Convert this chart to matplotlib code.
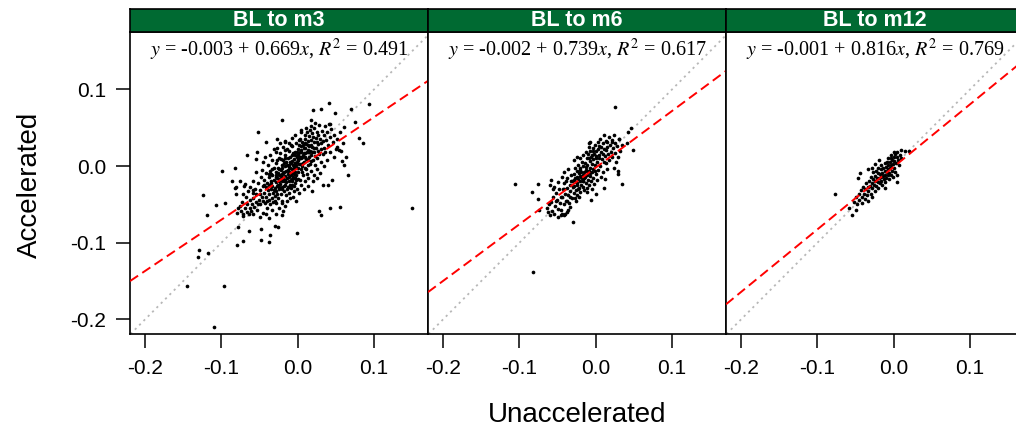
import numpy as np
import matplotlib
matplotlib.use("Agg")
import matplotlib.pyplot as plt

plt.rcParams['axes.unicode_minus'] = False
plt.rcParams['mathtext.fontset'] = 'stix'

# ---------------- data ----------------
panel_titles = ["BL to m3", "BL to m6", "BL to m12"]
intercepts = [-0.003, -0.002, -0.001]
slopes = [0.669, 0.739, 0.816]
r_squared = [0.491, 0.617, 0.769]
tick_values = [-0.2, -0.1, 0.0, 0.1]

# (Unaccelerated, Accelerated) pairs, panel "BL to m3"
points_m3 = [
    (0.041, 0.083), (0.093, 0.081), (0.020, 0.073), (0.030, 0.074), (0.070, 0.074),
    (0.049, 0.069), (-0.020, 0.060), (0.018, 0.060), (0.075, 0.057), (0.042, 0.055),
    (0.061, 0.051), (-0.052, 0.044), (0.080, 0.037), (0.086, 0.030), (-0.041, 0.032),
    (-0.027, 0.035), (-0.016, 0.033), (-0.066, 0.014), (-0.053, 0.019), (-0.099, -0.006),
    (-0.082, -0.002), (-0.124, -0.038), (-0.107, -0.051), (-0.119, -0.064), (-0.095, -0.048),
    (-0.086, -0.019), (-0.076, -0.019), (0.066, -0.012), (0.058, 0.007), (0.061, 0.002),
    (0.045, -0.018), (0.033, -0.025), (0.040, -0.025), (0.019, -0.032), (0.028, -0.058),
    (0.030, -0.064), (0.043, -0.055), (0.055, -0.053), (0.150, -0.055), (-0.078, -0.080),
    (-0.064, -0.084), (-0.048, -0.082), (-0.048, -0.096), (-0.037, -0.099), (-0.036, -0.090),
    (-0.030, -0.078), (-0.026, -0.079), (-0.001, -0.087), (-0.071, -0.098), (-0.080, -0.103),
    (-0.129, -0.110), (-0.118, -0.113), (-0.131, -0.118), (-0.145, -0.157), (-0.096, -0.157),
    (-0.109, -0.210), (-0.028, -0.063), (-0.020, -0.064), (-0.019, -0.059),
    (-0.081, -0.027), (-0.081, -0.037), (-0.055, 0.009), (-0.045, 0.006), (-0.029, 0.019),
    (-0.017, 0.021), (0.004, 0.045), (0.016, 0.047), (0.002, 0.034),
    (-0.069, -0.023), (-0.062, -0.027), (-0.058, -0.031), (-0.082, -0.029), (-0.071, -0.036),
    (-0.078, -0.055), (-0.080, -0.061), (-0.072, -0.065),
    (0.051, 0.025), (0.054, 0.021), (0.047, 0.012),
    (-0.074, -0.058), (-0.071, -0.062), (-0.069, -0.055), (-0.067, -0.060), (-0.066, -0.049),
    (-0.064, -0.063), (-0.063, -0.054), (-0.062, -0.044), (-0.061, -0.058), (-0.060, -0.050),
    (-0.073, -0.047), (-0.068, -0.040), (-0.065, -0.033), (-0.070, -0.026), (-0.076, -0.052),
    (-0.059, -0.062), (-0.058, -0.041), (-0.057, -0.053), (-0.056, -0.030), (-0.055, -0.047),
    (-0.054, -0.036), (-0.053, -0.057), (-0.052, -0.022), (-0.051, -0.044), (-0.050, -0.031),
    (-0.049, -0.050), (-0.048, -0.014), (-0.047, -0.040), (-0.046, -0.026), (-0.045, -0.061),
    (-0.058, -0.020), (-0.055, -0.008), (-0.050, -0.067), (-0.047, -0.005), (-0.046, -0.046),
    (-0.044, -0.035), (-0.044, -0.018), (-0.043, -0.048), (-0.042, -0.027), (-0.042, -0.009),
    (-0.041, -0.040), (-0.040, -0.022), (-0.040, -0.055), (-0.039, -0.031), (-0.039, 0.002),
    (-0.038, -0.014), (-0.038, -0.044), (-0.037, -0.025), (-0.037, -0.036), (-0.036, -0.006),
    (-0.036, -0.050), (-0.035, -0.019), (-0.035, -0.030), (-0.034, -0.041), (-0.034, 0.008),
    (-0.033, -0.012), (-0.033, -0.026), (-0.032, -0.035), (-0.032, -0.047), (-0.031, -0.018),
    (-0.031, -0.002), (-0.030, -0.029), (-0.030, -0.039), (-0.043, 0.012), (-0.041, -0.062),
    (-0.036, 0.015), (-0.033, -0.057), (-0.031, 0.022), (-0.038, -0.068), (-0.035, -0.010),
    (-0.029, -0.021), (-0.029, -0.008), (-0.028, -0.033), (-0.028, 0.004), (-0.027, -0.015),
    (-0.027, -0.026), (-0.026, -0.041), (-0.026, -0.002), (-0.025, -0.019), (-0.025, 0.010),
    (-0.024, -0.030), (-0.024, -0.011), (-0.023, -0.023), (-0.023, 0.017), (-0.022, -0.036),
    (-0.022, -0.005), (-0.021, -0.016), (-0.021, 0.002), (-0.020, -0.027), (-0.020, -0.045),
    (-0.019, -0.009), (-0.019, 0.008), (-0.018, -0.020), (-0.018, -0.032), (-0.017, 0.000),
    (-0.017, -0.013), (-0.016, 0.014), (-0.016, -0.025), (-0.015, -0.006), (-0.015, -0.038),
    (-0.029, -0.048), (-0.027, 0.024), (-0.025, -0.054), (-0.023, 0.030), (-0.021, -0.048),
    (-0.019, 0.025), (-0.017, -0.052), (-0.016, 0.032), (-0.028, -0.012), (-0.026, -0.024),
    (-0.024, -0.004), (-0.022, -0.013), (-0.020, -0.002), (-0.018, -0.007), (-0.016, -0.018),
    (-0.022, 0.009), (-0.020, -0.019), (-0.018, 0.004), (-0.027, -0.037), (-0.015, 0.006),
    (-0.014, -0.016), (-0.014, 0.002), (-0.013, -0.027), (-0.013, 0.011), (-0.012, -0.008),
    (-0.012, -0.035), (-0.011, 0.020), (-0.011, -0.019), (-0.010, -0.002), (-0.010, 0.006),
    (-0.009, -0.012), (-0.009, -0.028), (-0.008, 0.014), (-0.008, -0.004), (-0.007, -0.020),
    (-0.007, 0.026), (-0.006, 0.001), (-0.006, -0.014), (-0.005, 0.009), (-0.005, -0.032),
    (-0.004, -0.007), (-0.004, 0.018), (-0.003, -0.022), (-0.003, 0.004), (-0.002, -0.011),
    (-0.002, 0.030), (-0.001, 0.012), (-0.001, -0.003), (0.000, -0.017), (0.000, 0.022),
    (-0.014, -0.045), (-0.012, 0.030), (-0.010, -0.042), (-0.008, 0.037), (-0.006, -0.040),
    (-0.004, 0.040), (-0.002, -0.046), (-0.013, -0.005), (-0.011, 0.001), (-0.009, 0.004),
    (-0.007, -0.009), (-0.005, -0.001), (-0.003, 0.014), (-0.001, 0.005), (-0.012, -0.014),
    (-0.010, -0.024), (-0.008, -0.017), (-0.006, 0.017), (-0.004, -0.015), (-0.002, 0.001),
    (0.000, 0.008), (-0.014, 0.022), (-0.009, 0.028), (-0.005, -0.026), (-0.001, -0.030),
    (0.001, 0.016), (0.001, -0.008), (0.002, 0.027), (0.002, 0.003), (0.003, -0.018),
    (0.003, 0.036), (0.004, 0.010), (0.004, -0.004), (0.005, 0.021), (0.005, -0.025),
    (0.006, 0.000), (0.006, 0.031), (0.007, 0.014), (0.007, -0.012), (0.008, 0.024),
    (0.008, 0.005), (0.009, -0.019), (0.009, 0.040), (0.010, 0.017), (0.010, -0.003),
    (0.011, 0.029), (0.011, 0.009), (0.012, -0.010), (0.012, 0.044), (0.013, 0.021),
    (0.013, 0.002), (0.014, 0.033), (0.014, -0.015), (0.015, 0.012), (0.015, 0.026),
    (0.002, -0.035), (0.005, 0.047), (0.008, -0.030), (0.011, 0.050), (0.013, -0.026),
    (0.003, 0.019), (0.006, 0.012), (0.009, 0.030), (0.012, 0.018), (0.001, 0.008),
    (0.004, 0.026), (0.007, 0.004), (0.010, 0.036), (0.014, 0.008), (0.015, 0.039),
    (0.016, 0.020), (0.016, 0.003), (0.017, 0.034), (0.018, 0.014), (0.018, -0.006),
    (0.019, 0.043), (0.019, 0.025), (0.020, 0.008), (0.021, 0.031), (0.021, -0.012),
    (0.022, 0.018), (0.022, 0.050), (0.023, 0.002), (0.024, 0.037), (0.024, 0.024),
    (0.025, 0.011), (0.026, 0.045), (0.026, -0.004), (0.027, 0.029), (0.028, 0.016),
    (0.028, 0.054), (0.029, 0.036), (0.030, 0.006), (0.030, 0.023), (0.017, 0.052),
    (0.020, -0.020), (0.023, 0.056), (0.025, -0.016), (0.027, 0.040), (0.029, -0.009),
    (0.031, 0.030), (0.032, 0.046), (0.033, 0.016), (0.034, 0.040), (0.035, 0.024),
    (0.036, 0.052), (0.037, 0.034), (0.038, 0.008), (0.039, 0.044), (0.040, 0.028),
    (0.042, 0.038), (0.043, 0.018), (0.044, 0.048), (0.046, 0.031), (0.048, 0.041),
    (0.050, 0.022), (0.034, 0.000), (0.041, 0.055), (0.052, 0.035), (0.055, 0.044),
    (0.057, 0.020), (0.060, 0.030), (0.063, 0.012),
    (-0.035, -0.022), (-0.033, -0.004), (-0.031, -0.031), (-0.029, -0.014), (-0.027, 0.008),
    (-0.025, -0.027), (-0.023, -0.011), (-0.021, -0.030), (-0.019, -0.016), (-0.017, 0.010),
    (-0.015, -0.021), (-0.013, -0.010), (-0.011, -0.027), (-0.009, -0.018), (-0.007, 0.007),
    (-0.005, -0.010), (-0.003, -0.016), (-0.001, 0.018), (0.001, -0.002), (0.003, 0.012),
    (0.005, 0.003), (0.007, 0.027), (0.009, 0.012), (0.011, -0.004), (0.013, 0.027),
    (0.015, 0.019), (0.017, 0.007), (0.019, 0.018), (0.021, 0.024), (0.023, 0.013),
    (0.025, 0.031), (0.027, 0.020), (-0.030, -0.045), (-0.026, -0.009), (-0.024, -0.017),
    (-0.020, -0.010), (-0.018, -0.026), (-0.014, -0.030), (-0.012, -0.001), (-0.010, 0.012),
    (-0.008, -0.024), (-0.006, -0.005), (-0.004, 0.004), (-0.002, -0.018), (0.000, 0.015),
    (0.002, 0.010), (0.004, 0.018), (0.006, -0.007), (0.008, 0.017), (0.010, 0.024),
    (-0.044, -0.025), (-0.040, -0.046), (-0.037, -0.010), (-0.049, -0.037), (-0.052, -0.049),
    (-0.058, -0.035), (0.018, 0.028), (0.020, 0.038), (0.033, 0.033), (0.036, 0.018),
]

# panel "BL to m6"
points_m6 = [
    (0.026, 0.077), (-0.106, -0.023), (-0.082, -0.138), (-0.030, -0.073), (0.049, 0.021),
    (0.035, -0.023), (0.046, 0.050), (0.042, 0.044), (0.031, 0.035), (0.022, 0.034),
    (0.029, -0.006), (0.029, -0.010), (-0.076, -0.023), (-0.084, -0.034), (-0.076, -0.043),
    (-0.074, -0.057), (-0.006, -0.044), (0.001, -0.037), (0.011, -0.029), (-0.009, 0.030),
    (-0.007, 0.031), (0.041, 0.030),
    (-0.064, -0.055), (-0.062, -0.060), (-0.061, -0.050), (-0.060, -0.064), (-0.058, -0.047),
    (-0.057, -0.058), (-0.056, -0.040), (-0.055, -0.062), (-0.053, -0.052), (-0.052, -0.035),
    (-0.051, -0.044), (-0.050, -0.066), (-0.049, -0.056), (-0.048, -0.030), (-0.047, -0.048),
    (-0.046, -0.064), (-0.060, -0.025), (-0.058, -0.018), (-0.054, -0.027), (-0.050, -0.021),
    (-0.056, -0.030),
    (-0.044, -0.062), (-0.042, -0.064), (-0.040, -0.063), (-0.038, -0.060), (-0.036, -0.057),
    (-0.045, -0.057),
    (-0.044, -0.040), (-0.043, -0.030), (-0.042, -0.050), (-0.041, -0.022), (-0.040, -0.036),
    (-0.039, -0.045), (-0.038, -0.028), (-0.037, -0.016), (-0.036, -0.038), (-0.035, -0.048),
    (-0.034, -0.024), (-0.033, -0.032), (-0.032, -0.012), (-0.031, -0.042), (-0.030, -0.027),
    (-0.044, -0.014), (-0.041, -0.008), (-0.039, -0.019), (-0.036, -0.004), (-0.034, -0.053),
    (-0.032, -0.020),
    (-0.029, -0.018), (-0.029, -0.035), (-0.028, -0.010), (-0.028, -0.026), (-0.027, -0.042),
    (-0.027, -0.003), (-0.026, -0.021), (-0.026, -0.031), (-0.025, -0.014), (-0.025, -0.006),
    (-0.024, -0.025), (-0.024, -0.038), (-0.023, -0.017), (-0.023, 0.002), (-0.022, -0.009),
    (-0.022, -0.029), (-0.021, -0.020), (-0.021, -0.013), (-0.020, -0.034), (-0.020, -0.002),
    (-0.019, -0.024), (-0.019, -0.008), (-0.018, -0.016), (-0.018, 0.005), (-0.017, -0.027),
    (-0.017, -0.011), (-0.016, -0.019), (-0.016, 0.000), (-0.015, -0.008), (-0.015, -0.031),
    (-0.028, 0.008), (-0.024, 0.012), (-0.020, 0.010), (-0.016, 0.015), (-0.026, -0.046),
    (-0.022, -0.040),
    (-0.014, -0.014), (-0.014, 0.004), (-0.013, -0.022), (-0.013, -0.005), (-0.012, 0.010),
    (-0.012, -0.028), (-0.011, -0.011), (-0.011, 0.001), (-0.010, -0.018), (-0.010, 0.016),
    (-0.009, -0.006), (-0.009, -0.025), (-0.008, 0.007), (-0.008, -0.013), (-0.007, 0.020),
    (-0.007, -0.002), (-0.006, -0.019), (-0.006, 0.012), (-0.005, -0.008), (-0.005, 0.003),
    (-0.004, 0.024), (-0.004, -0.015), (-0.003, 0.009), (-0.003, -0.004), (-0.002, 0.016),
    (-0.002, -0.023), (-0.001, 0.002), (-0.001, 0.028), (0.000, -0.010), (0.000, 0.011),
    (-0.013, 0.018), (-0.009, 0.025), (-0.005, -0.030), (-0.011, -0.034),
    (0.001, 0.020), (0.002, 0.005), (0.003, -0.005), (0.004, 0.014), (0.005, 0.026),
    (0.006, 0.000), (0.007, 0.018), (0.008, 0.009), (0.009, 0.030), (0.010, -0.008),
    (0.011, 0.022), (0.012, 0.013), (0.013, 0.033), (0.014, 0.004), (0.015, 0.025),
    (0.016, 0.016), (0.017, 0.038), (0.018, 0.008), (0.019, 0.028), (0.020, 0.019),
    (0.003, 0.031), (0.007, -0.014), (0.011, 0.040), (0.015, -0.004), (0.002, -0.018),
    (0.006, 0.036), (0.012, -0.017),
    (0.021, 0.032), (0.022, 0.012), (0.023, 0.024), (0.024, 0.040), (0.025, 0.017),
    (0.026, 0.030), (0.027, 0.006), (0.028, 0.026), (0.030, 0.036), (0.032, 0.020),
    (0.034, 0.028), (0.024, -0.003), (0.029, 0.012),
    (-0.027, -0.015), (-0.025, -0.022), (-0.023, -0.030), (-0.021, -0.005), (-0.019, -0.014),
    (-0.017, -0.020), (-0.015, -0.015), (-0.013, -0.001), (-0.011, -0.006), (-0.009, 0.010),
    (-0.007, -0.009), (-0.005, 0.014), (-0.003, 0.020), (-0.001, -0.006), (0.001, 0.013),
    (0.003, 0.022), (0.005, 0.010), (0.007, 0.025), (0.009, 0.016), (0.011, 0.005),
    (0.013, 0.021), (0.015, 0.032), (-0.033, -0.040), (-0.031, -0.020), (-0.037, -0.045),
    (-0.041, -0.030), (-0.046, -0.040), (-0.052, -0.045),
]

# panel "BL to m12"
points_m12 = [
    (-0.077, -0.036), (-0.054, -0.064), (-0.058, -0.055), (-0.049, -0.057), (-0.044, -0.009),
    (-0.034, -0.004), (-0.047, -0.015), (0.000, 0.019), (0.015, 0.020), (0.004, -0.021),
    (0.020, 0.020),
    (-0.052, -0.047), (-0.050, -0.040), (-0.048, -0.050), (-0.046, -0.036), (-0.045, -0.044),
    (-0.043, -0.031), (-0.042, -0.040), (-0.041, -0.048), (-0.040, -0.027), (-0.039, -0.036),
    (-0.038, -0.043), (-0.037, -0.030), (-0.036, -0.022), (-0.035, -0.038), (-0.034, -0.027),
    (-0.033, -0.033), (-0.032, -0.019), (-0.031, -0.026), (-0.030, -0.036), (-0.030, -0.014),
    (-0.029, -0.022), (-0.028, -0.029), (-0.027, -0.017), (-0.027, -0.008), (-0.026, -0.024),
    (-0.025, -0.013), (-0.025, -0.032), (-0.024, -0.019), (-0.023, -0.006), (-0.023, -0.026),
    (-0.022, -0.015), (-0.021, -0.021), (-0.021, -0.009), (-0.020, -0.028), (-0.020, -0.003),
    (-0.019, -0.016), (-0.018, -0.010), (-0.018, -0.022), (-0.017, -0.004), (-0.017, -0.014),
    (-0.016, -0.019), (-0.016, 0.001), (-0.015, -0.009), (-0.015, -0.025), (-0.014, -0.013),
    (-0.014, -0.002), (-0.013, -0.017), (-0.012, -0.006), (-0.012, 0.004), (-0.011, -0.011),
    (-0.011, -0.021), (-0.010, -0.001), (-0.010, -0.015), (-0.009, 0.006), (-0.009, -0.007),
    (-0.008, -0.012), (-0.008, 0.002), (-0.007, -0.004), (-0.007, 0.010), (-0.006, -0.009),
    (-0.006, -0.017), (-0.005, 0.005), (-0.005, -0.002), (-0.004, 0.011), (-0.004, -0.012),
    (-0.003, 0.001), (-0.003, 0.015), (-0.002, -0.006), (-0.002, 0.008), (-0.001, 0.003),
    (-0.001, -0.014), (0.000, 0.012), (0.000, -0.002), (0.001, 0.007), (0.002, 0.016),
    (0.002, -0.008), (0.003, 0.004), (0.004, 0.012), (0.005, 0.019), (0.006, 0.008),
    (0.007, 0.002), (0.008, 0.014), (0.009, 0.021), (0.010, 0.010), (-0.028, -0.002),
    (-0.024, 0.003), (-0.019, 0.008), (-0.033, -0.045), (-0.029, -0.040), (-0.012, -0.028),
    (0.004, -0.012),
]

panel_points = [points_m3, points_m6, points_m12]

# ---------------- figure ----------------
W, H = 1016, 437
fig = plt.figure(figsize=(W / 100, H / 100), dpi=100)

panel_left_px = [130, 428, 726]
panel_w_px = 298
panel_top_px, panel_bot_px = 32, 334
strip_top_px = 9

xlim = (-0.2197, 0.1708)
ylim = (-0.219, 0.175)
strip_green = '#006a32'

for i in range(3):
    l = panel_left_px[i] / W
    b = (H - panel_bot_px) / H
    w = panel_w_px / W
    h = (panel_bot_px - panel_top_px) / H
    ax = fig.add_axes([l, b, w, h])
    pts = np.array(panel_points[i])
    ax.axline((0, 0), slope=1, color='#b8b8b8', linestyle=(0, (1.2, 2.2)), linewidth=1.3, zorder=1)
    ax.axline((0, intercepts[i]), slope=slopes[i], color='#ff0000',
              linestyle=(0, (5, 2.6)), linewidth=1.4, zorder=3)
    ax.scatter(pts[:, 0], pts[:, 1], s=7, c='black', marker='o', linewidths=0, zorder=2)
    ax.set_xlim(*xlim)
    ax.set_ylim(*ylim)
    ax.set_xticks(tick_values)
    ax.set_xticklabels([f"{v:.1f}" for v in tick_values], fontfamily='Liberation Sans', fontsize=15)
    ax.tick_params(axis='x', direction='out', length=10, width=1.1, pad=8, top=False)
    if i == 0:
        ax.set_yticks(tick_values)
        ax.set_yticklabels([f"{v:.1f}" for v in tick_values], fontfamily='Liberation Sans', fontsize=15)
        ax.tick_params(axis='y', direction='out', length=10, width=1.1, pad=7, right=False)
    else:
        ax.set_yticks([])
    for sp in ax.spines.values():
        sp.set_linewidth(1.2)
        sp.set_color('black')
    eq = f"$y$ = {intercepts[i]:.3f} + {slopes[i]:.3f}$x$, $R^2$ = {r_squared[i]:.3f}"
    ax.text(0.5, 1 - 18 / (panel_bot_px - panel_top_px), eq, transform=ax.transAxes,
            ha='center', va='center', fontsize=14.5, fontfamily='Liberation Serif', zorder=5)

    # strip
    sax = fig.add_axes([l, (H - panel_top_px) / H, w, (panel_top_px - strip_top_px) / H])
    sax.set_facecolor(strip_green)
    sax.set_xticks([])
    sax.set_yticks([])
    for sp in sax.spines.values():
        sp.set_linewidth(1.2)
        sp.set_color('black')
    sax.text(0.5, 0.48, panel_titles[i], transform=sax.transAxes, ha='center', va='center',
             color='white', fontsize=15.5, fontweight='bold', fontfamily='Liberation Sans')

fig.text(30 / W, 1 - 185 / H, "Accelerated", rotation=90, ha='center', va='center',
         fontsize=20, fontfamily='Liberation Sans')
fig.text(577 / W, 1 - 415 / H, "Unaccelerated", ha='center', va='center',
         fontsize=20, fontfamily='Liberation Sans')

fig.savefig("out.png", dpi=100)
